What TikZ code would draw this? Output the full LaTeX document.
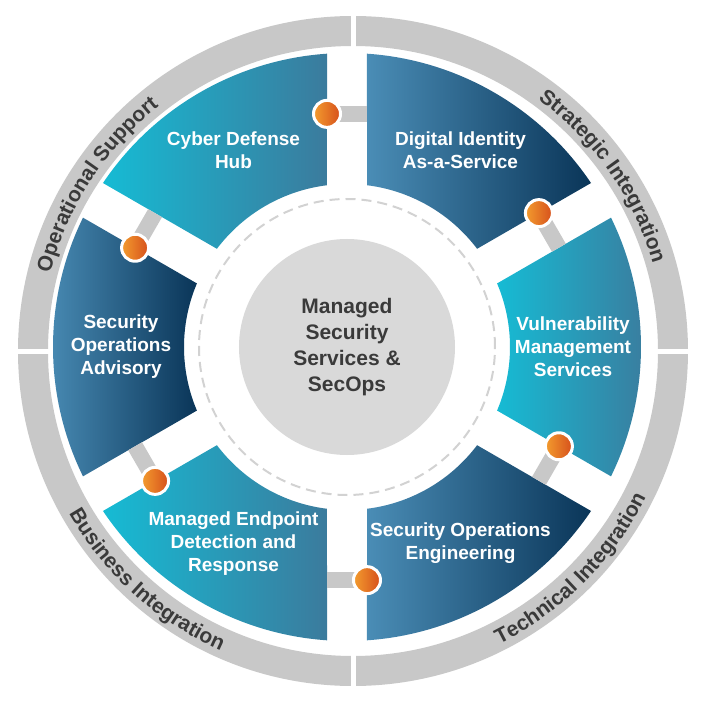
\documentclass[tikz,border=0pt]{standalone}
\usepackage{fontspec}
\setmainfont{Liberation Sans}
\usetikzlibrary{decorations.text}
\definecolor{ringgray}{HTML}{C8C8C8}
\definecolor{hubgray}{HTML}{D9D9D9}
\definecolor{dashgray}{HTML}{D2D2D2}
\definecolor{textgray}{HTML}{3A3A3A}
\definecolor{cyanleft}{HTML}{16BBD4}
\definecolor{cyanright}{HTML}{3B7B9D}
\definecolor{navyleft}{HTML}{4A8DB6}
\definecolor{navyright}{HTML}{0A3558}
\definecolor{orangeleft}{HTML}{F39C2E}
\definecolor{orangeright}{HTML}{D6501C}

\begin{document}
\begin{tikzpicture}[x=1pt, y=1pt]
\tikzset{
  segcyan/.style={left color=cyanleft, right color=cyanright},
  segnavy/.style={left color=navyleft, right color=navyright},
  seglabel/.style={text=white, align=center, font=\bfseries\fontsize{19}{23}\selectfont},
  linkbar/.style={ringgray, line width=16},
  orangedot/.style={circle, draw=white, line width=3, minimum size=27, inner sep=0pt,
                    left color=orangeleft, right color=orangeright},
  ringlabel/.style={decorate, decoration={text along path, text align=center, text color=textgray,
                    text={|\bfseries\fontsize{21}{21}\selectfont|#1}}},
}
\useasboundingbox (-347,-365) rectangle (365,347);
%\draw [lightgray, dashed] (-347,-365) grid (365,347);

\coordinate (RC) at (6,-4);

% outer ring
\draw [ringgray, line width=30] (RC) circle (320);
\draw [white, line width=5] (6,294)   -- (6,340);
\draw [white, line width=5] (6,-300)  -- (6,-346);
\draw [white, line width=5] (-296,-4) -- (-342,-4);
\draw [white, line width=5] (308,-4)  -- (354,-4);

\path [shift={(RC)}, ringlabel={Operational Support}]
  (172:312.5) arc [start angle=172, end angle=122, radius=312.5];
\path [shift={(RC)}, ringlabel={Strategic Integration}]
  (60:312.5) arc [start angle=60, end angle=10, radius=312.5];
\path [shift={(RC)}, ringlabel={Technical Integration}]
  (-70:327.5) arc [start angle=-70, end angle=-20, radius=327.5];
\path [shift={(RC)}, ringlabel={Business Integration}]
  (203:327.5) arc [start angle=203, end angle=253, radius=327.5];

% segments
\shade [segcyan] (93.9:294) arc [start angle=93.9, end angle=146.1, radius=294]
  -- (142.95:163) arc [start angle=142.95, end angle=97.05, radius=163] -- cycle;
\shade [segnavy] (33.9:294) arc [start angle=33.9, end angle=86.1, radius=294]
  -- (82.95:163) arc [start angle=82.95, end angle=37.05, radius=163] -- cycle;
\shade [segcyan] (-26.1:294) arc [start angle=-26.1, end angle=26.1, radius=294]
  -- (22.95:163) arc [start angle=22.95, end angle=-22.95, radius=163] -- cycle;
\shade [segnavy] (-86.1:294) arc [start angle=-86.1, end angle=-33.9, radius=294]
  -- (-37.05:163) arc [start angle=-37.05, end angle=-82.95, radius=163] -- cycle;
\shade [segcyan] (213.9:294) arc [start angle=213.9, end angle=266.1, radius=294]
  -- (262.95:163) arc [start angle=262.95, end angle=217.05, radius=163] -- cycle;
\shade [segnavy] (153.9:294) arc [start angle=153.9, end angle=206.1, radius=294]
  -- (202.95:163) arc [start angle=202.95, end angle=157.05, radius=163] -- cycle;

% hub
\draw [dashgray, line width=2, dash pattern=on 10pt off 6pt] (0,0) circle (148);
\node [circle, fill=hubgray, minimum size=216, text=textgray, align=center,
       font=\bfseries\fontsize{21}{26}\selectfont] (MSS) at (0,0)
       {Managed\\Security\\Services \&\\SecOps};

% links between segments
\coordinate (L1a) at (94.9:234);   \coordinate (L1b) at (85.1:234);
\coordinate (L2a) at (34.9:234);   \coordinate (L2b) at (25.1:234);
\coordinate (L3a) at (-25.1:234);  \coordinate (L3b) at (-34.9:234);
\coordinate (L4a) at (-85.1:234);  \coordinate (L4b) at (-94.9:234);
\coordinate (L5a) at (214.9:234);  \coordinate (L5b) at (205.1:234);
\coordinate (L6a) at (154.9:234);  \coordinate (L6b) at (145.1:234);

\draw [linkbar] (L1a) -- (L1b);
\draw [linkbar] (L2a) -- (L2b);
\draw [linkbar] (L3a) -- (L3b);
\draw [linkbar] (L4a) -- (L4b);
\draw [linkbar] (L5a) -- (L5b);
\draw [linkbar] (L6a) -- (L6b);

\node [orangedot] (D1) at (L1a) {};
\node [orangedot] (D2) at (L2a) {};
\node [orangedot] (D3) at (L3a) {};
\node [orangedot] (D4) at (L4a) {};
\node [orangedot] (D5) at (L5a) {};
\node [orangedot] (D6) at (L6a) {};

% segment labels
\node [seglabel] (CDH) at (120:227)  {Cyber Defense\\Hub};
\node [seglabel] (DIA) at (60:227)   {Digital Identity\\As-a-Service};
\node [seglabel] (VMS) at (0:226)    {Vulnerability\\Management\\Services};
\node [seglabel] (SOE) at (-60:227)  {Security Operations\\Engineering};
\node [seglabel] (MED) at (-120:227) {Managed Endpoint\\Detection and\\Response};
\node [seglabel] (SOA) at (180:226)  {Security\\Operations\\Advisory};

\end{tikzpicture}
\end{document}
